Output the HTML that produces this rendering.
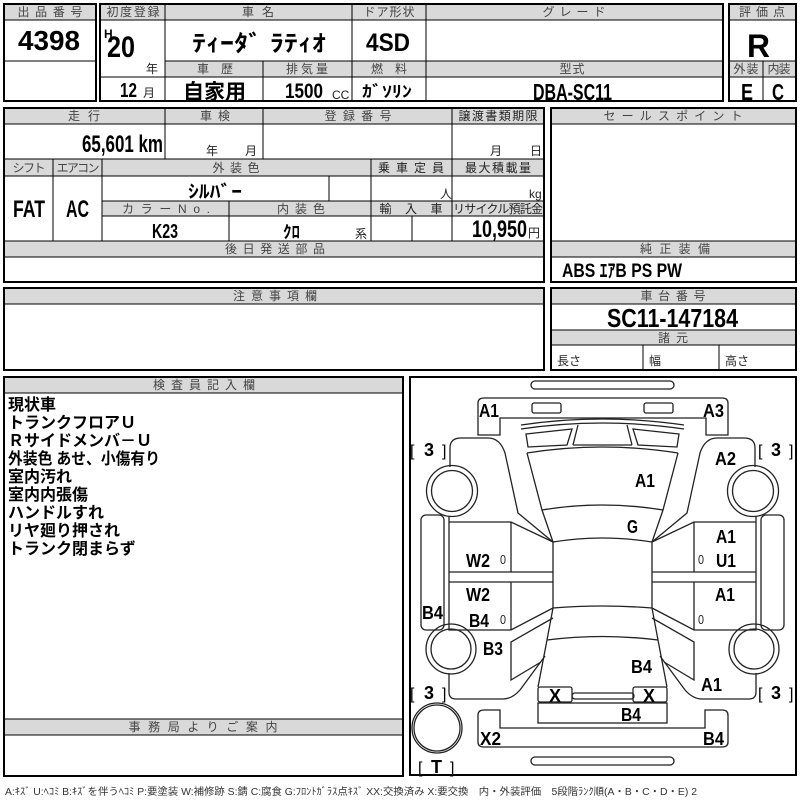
<!DOCTYPE html>
<html><head><meta charset="utf-8">
<style>
html,body{margin:0;padding:0;background:#fff;width:800px;height:800px;overflow:hidden;}
svg{display:block;}
.h{font-family:"Liberation Sans","Noto Sans CJK JP",sans-serif;font-size:12px;fill:#444;text-anchor:middle;}
.hd{font-family:"Liberation Sans","Noto Sans CJK JP",sans-serif;font-size:12px;fill:#222;text-anchor:middle;}
.v{font-family:"Liberation Sans","Noto Sans CJK JP",sans-serif;font-weight:bold;fill:#000;}
.j{font-family:"Liberation Sans","Noto Sans CJK JP",sans-serif;font-weight:bold;fill:#000;}
.s{font-family:"Liberation Sans","Noto Sans CJK JP",sans-serif;font-size:12px;fill:#222;}
.g{fill:#d9d9d9;stroke:none;}
.b{fill:none;stroke:#000;stroke-width:2;}
.l{stroke:#000;stroke-width:1;fill:none;}
.d{fill:none;stroke:#222;stroke-width:1.3;}
.lab{font-family:"Liberation Sans",sans-serif;font-weight:bold;font-size:18px;fill:#000;}
.br{font-family:"Liberation Sans",sans-serif;font-size:16px;fill:#000;}
.z{font-family:"Liberation Sans",sans-serif;font-size:13px;fill:#222;}
.ins{font-family:"Liberation Sans","Noto Sans CJK JP",sans-serif;font-weight:bold;font-size:16px;fill:#000;}
</style></head>
<body>
<svg width="800" height="800" viewBox="0 0 800 800" xmlns="http://www.w3.org/2000/svg">
<rect x="0" y="0" width="800" height="800" fill="#fff"/>

<!-- ===== TOP: 出品番号 ===== -->
<rect class="g" x="4" y="4" width="92" height="16"/>
<rect class="b" x="4" y="4" width="92" height="97"/>
<line class="l" x1="4" y1="20" x2="96" y2="20"/>
<line class="l" x1="4" y1="61" x2="96" y2="61"/>
<text class="h" x="50" y="16" textLength="65" lengthAdjust="spacing">出品番号</text>
<text class="v" x="18" y="50" font-size="28" textLength="62" lengthAdjust="spacingAndGlyphs">4398</text>

<!-- ===== TOP: main info ===== -->
<rect class="g" x="100" y="4" width="623" height="16"/>
<rect class="g" x="165" y="61" width="558" height="16"/>
<rect class="b" x="100" y="4" width="623" height="97"/>
<line class="l" x1="100" y1="20" x2="723" y2="20"/>
<line class="l" x1="165" y1="61" x2="723" y2="61"/>
<line class="l" x1="100" y1="77" x2="723" y2="77"/>
<line class="l" x1="165" y1="4" x2="165" y2="101"/>
<line class="l" x1="352" y1="4" x2="352" y2="101"/>
<line class="l" x1="426" y1="4" x2="426" y2="101"/>
<line class="l" x1="263" y1="61" x2="263" y2="101"/>
<text class="h" x="133" y="16" textLength="53" lengthAdjust="spacing">初度登録</text>
<text class="h" x="258" y="16" textLength="32" lengthAdjust="spacing">車名</text>
<text class="h" x="389" y="16" textLength="51" lengthAdjust="spacing">ドア形状</text>
<text class="h" x="574" y="16" textLength="63" lengthAdjust="spacing">グレード</text>
<text class="h" x="215" y="73" textLength="36" lengthAdjust="spacing">車歴</text>
<text class="h" x="307" y="73" textLength="42" lengthAdjust="spacing">排気量</text>
<text class="h" x="389" y="73" textLength="36" lengthAdjust="spacing">燃料</text>
<text class="h" x="572" y="73" textLength="25" lengthAdjust="spacing">型式</text>

<text class="v" x="104" y="38" font-size="12">H</text>
<text class="v" x="107" y="57" font-size="30" textLength="28" lengthAdjust="spacingAndGlyphs">20</text>
<text class="s" x="146" y="73" font-size="11">年</text>
<text class="v" x="120" y="97" font-size="20" textLength="17" lengthAdjust="spacingAndGlyphs">12</text>
<text class="s" x="143" y="97" font-size="11">月</text>
<text class="j" x="192" y="51" font-size="23" textLength="134" lengthAdjust="spacingAndGlyphs">ﾃｨｰﾀﾞ ﾗﾃｨｵ</text>
<text class="v" x="366" y="51" font-size="25" textLength="44" lengthAdjust="spacingAndGlyphs">4SD</text>
<text class="j" x="183" y="99" font-size="21" textLength="63" lengthAdjust="spacingAndGlyphs">自家用</text>
<text class="v" x="285" y="98" font-size="21" textLength="38" lengthAdjust="spacingAndGlyphs">1500</text>
<text class="s" x="332" y="99" font-size="10">CC</text>
<text class="j" x="362" y="97" font-size="16" textLength="50" lengthAdjust="spacingAndGlyphs">ｶﾞｿﾘﾝ</text>
<text class="v" x="533" y="100" font-size="23" textLength="79" lengthAdjust="spacingAndGlyphs">DBA-SC11</text>

<!-- 評価点 -->
<rect class="g" x="729" y="4" width="67" height="16"/>
<rect class="g" x="729" y="61" width="67" height="16"/>
<rect class="b" x="729" y="4" width="67" height="97"/>
<line class="l" x1="729" y1="20" x2="796" y2="20"/>
<line class="l" x1="729" y1="61" x2="796" y2="61"/>
<line class="l" x1="729" y1="77" x2="796" y2="77"/>
<line class="l" x1="763" y1="61" x2="763" y2="101"/>
<text class="h" x="762" y="16" textLength="46" lengthAdjust="spacing">評価点</text>
<text class="h" x="746" y="73" textLength="25" lengthAdjust="spacing">外装</text>
<text class="h" x="779" y="73" textLength="23" lengthAdjust="spacing">内装</text>
<text class="v" x="747" y="57" font-size="32" textLength="23" lengthAdjust="spacingAndGlyphs">R</text>
<text class="v" x="741" y="100" font-size="23" textLength="12" lengthAdjust="spacingAndGlyphs">E</text>
<text class="v" x="772" y="100" font-size="23" textLength="12" lengthAdjust="spacingAndGlyphs">C</text>

<!-- ===== SECOND SECTION LEFT ===== -->
<rect class="g" x="4" y="108" width="540" height="16"/>
<rect class="g" x="4" y="159" width="540" height="17"/>
<rect class="g" x="102" y="201" width="442" height="15"/>
<rect class="g" x="4" y="241" width="540" height="16"/>
<rect class="b" x="4" y="108" width="540" height="174"/>
<line class="l" x1="4" y1="124" x2="544" y2="124"/>
<line class="l" x1="165" y1="108" x2="165" y2="159"/>
<line class="l" x1="263" y1="108" x2="263" y2="159"/>
<line class="l" x1="452" y1="108" x2="452" y2="241"/>
<line class="l" x1="4" y1="159" x2="544" y2="159"/>
<line class="l" x1="4" y1="176" x2="544" y2="176"/>
<line class="l" x1="53" y1="159" x2="53" y2="241"/>
<line class="l" x1="102" y1="159" x2="102" y2="241"/>
<line class="l" x1="371" y1="159" x2="371" y2="241"/>
<line class="l" x1="329" y1="176" x2="329" y2="201"/>
<line class="l" x1="102" y1="201" x2="544" y2="201"/>
<line class="l" x1="102" y1="216" x2="544" y2="216"/>
<line class="l" x1="229" y1="201" x2="229" y2="241"/>
<line class="l" x1="412" y1="216" x2="412" y2="241"/>
<line class="l" x1="4" y1="241" x2="544" y2="241"/>
<line class="l" x1="4" y1="257" x2="544" y2="257"/>

<text class="h" x="84" y="120" textLength="32" lengthAdjust="spacing">走行</text>
<text class="h" x="215" y="120" textLength="30" lengthAdjust="spacing">車検</text>
<text class="h" x="358" y="120" textLength="67" lengthAdjust="spacing">登録番号</text>
<text class="hd" x="498" y="120" textLength="79" lengthAdjust="spacing">譲渡書類期限</text>
<text class="v" x="82" y="152" font-size="24" textLength="81" lengthAdjust="spacingAndGlyphs">65,601 km</text>
<text class="s" x="206" y="155">年</text>
<text class="s" x="245" y="155">月</text>
<text class="s" x="490" y="155">月</text>
<text class="s" x="530" y="155">日</text>

<text class="h" x="29" y="172" textLength="33" lengthAdjust="spacing">シフト</text>
<text class="h" x="78" y="172" textLength="43" lengthAdjust="spacing">エアコン</text>
<text class="h" x="236" y="172" textLength="47" lengthAdjust="spacing">外装色</text>
<text class="hd" x="411" y="172" textLength="66" lengthAdjust="spacing">乗車定員</text>
<text class="hd" x="498" y="172" textLength="66" lengthAdjust="spacing">最大積載量</text>
<text class="v" x="13" y="217" font-size="24" textLength="32" lengthAdjust="spacingAndGlyphs">FAT</text>
<text class="v" x="66" y="217" font-size="24" textLength="23" lengthAdjust="spacingAndGlyphs">AC</text>
<text class="j" x="188" y="198" font-size="18" textLength="54" lengthAdjust="spacingAndGlyphs">ｼﾙﾊﾞｰ</text>
<text class="s" x="440" y="198">人</text>
<text class="s" x="529" y="198" font-size="13">kg</text>

<text class="h" x="166" y="213" textLength="88" lengthAdjust="spacing">カラーNo.</text>
<text class="h" x="301" y="213" textLength="48" lengthAdjust="spacing">内装色</text>
<text class="hd" x="411" y="213" textLength="63" lengthAdjust="spacing">輸入車</text>
<text class="hd" x="498" y="213" textLength="90" lengthAdjust="spacing">リサイクル預託金</text>
<text class="v" x="152" y="238" font-size="20" textLength="26" lengthAdjust="spacingAndGlyphs">K23</text>
<text class="j" x="283" y="238" font-size="17" textLength="17" lengthAdjust="spacingAndGlyphs">ｸﾛ</text>
<text class="s" x="355" y="238" font-size="11">系</text>
<text class="v" x="472" y="237" font-size="24" textLength="55" lengthAdjust="spacingAndGlyphs">10,950</text>
<text class="s" x="528" y="237" font-size="13">円</text>
<text class="h" x="275" y="253" textLength="100" lengthAdjust="spacing">後日発送部品</text>

<!-- ===== SECOND SECTION RIGHT ===== -->
<rect class="g" x="551" y="108" width="245" height="16"/>
<rect class="g" x="551" y="241" width="245" height="16"/>
<rect class="b" x="551" y="108" width="245" height="174"/>
<line class="l" x1="551" y1="124" x2="796" y2="124"/>
<line class="l" x1="551" y1="241" x2="796" y2="241"/>
<line class="l" x1="551" y1="257" x2="796" y2="257"/>
<text class="h" x="673" y="120" textLength="139" lengthAdjust="spacing">セールスポイント</text>
<text class="h" x="675" y="253" textLength="70" lengthAdjust="spacing">純正装備</text>
<text class="j" x="562" y="277" font-size="19" textLength="120" lengthAdjust="spacingAndGlyphs">ABS ｴｱB PS PW</text>

<!-- ===== THIRD SECTION ===== -->
<rect class="g" x="4" y="288" width="540" height="16"/>
<rect class="b" x="4" y="288" width="540" height="82"/>
<line class="l" x1="4" y1="304" x2="544" y2="304"/>
<text class="h" x="275" y="300" textLength="84" lengthAdjust="spacing">注意事項欄</text>

<rect class="g" x="551" y="288" width="245" height="16"/>
<rect class="g" x="551" y="330" width="245" height="15"/>
<rect class="b" x="551" y="288" width="245" height="82"/>
<line class="l" x1="551" y1="304" x2="796" y2="304"/>
<line class="l" x1="551" y1="330" x2="796" y2="330"/>
<line class="l" x1="551" y1="345" x2="796" y2="345"/>
<line class="l" x1="643" y1="345" x2="643" y2="370"/>
<line class="l" x1="719" y1="345" x2="719" y2="370"/>
<text class="h" x="673" y="300" textLength="65" lengthAdjust="spacing">車台番号</text>
<text class="v" x="607" y="327" font-size="26" textLength="131" lengthAdjust="spacingAndGlyphs">SC11-147184</text>
<text class="h" x="673" y="342" textLength="30" lengthAdjust="spacing">諸元</text>
<text class="s" x="557" y="365">長さ</text>
<text class="s" x="649" y="365">幅</text>
<text class="s" x="725" y="365">高さ</text>

<!-- ===== INSPECTOR BOX ===== -->
<rect class="g" x="4" y="377" width="399" height="16"/>
<rect class="g" x="4" y="719" width="399" height="16"/>
<rect class="b" x="4" y="377" width="399" height="399"/>
<line class="l" x1="4" y1="393" x2="403" y2="393"/>
<line class="l" x1="4" y1="719" x2="403" y2="719"/>
<line class="l" x1="4" y1="735" x2="403" y2="735"/>
<text class="h" x="204" y="389" textLength="102" lengthAdjust="spacing">検査員記入欄</text>
<text class="h" x="203" y="731" textLength="149" lengthAdjust="spacing">事務局よりご案内</text>
<text class="ins" x="8" y="410">現状車</text>
<text class="ins" x="8" y="428">トランクフロアＵ</text>
<text class="ins" x="8" y="446">Ｒサイドメンバ－Ｕ</text>
<text class="ins" x="8" y="464" textLength="152" lengthAdjust="spacingAndGlyphs">外装色 あせ、小傷有り</text>
<text class="ins" x="8" y="482">室内汚れ</text>
<text class="ins" x="8" y="500">室内内張傷</text>
<text class="ins" x="8" y="518">ハンドルすれ</text>
<text class="ins" x="8" y="536">リヤ廻り押され</text>
<text class="ins" x="8" y="554">トランク閉まらず</text>

<!-- ===== CAR DIAGRAM ===== -->
<rect class="b" x="410" y="377" width="386" height="398"/>

<g id="L" class="d">
  <path d="M450,467 L450,448 Q450,438 461,438 L488,438 Q500,438 505,453 L518,513 L553,542"/>
  <circle cx="452" cy="491" r="25.5"/>
  <circle cx="452" cy="491" r="20.5"/>
  <rect x="421" y="515" width="23" height="115" rx="5"/>
  <path d="M449,522 L511,522 L553,542"/>
  <path d="M449,516 L449,630 L511,630 L553,608"/>
  <line x1="511" y1="522" x2="511" y2="572"/>
  <line x1="449" y1="572" x2="553" y2="572"/>
  <line x1="449" y1="582" x2="553" y2="582"/>
  <line x1="511" y1="582" x2="511" y2="630"/>
  <path d="M553,618 L511,642 L511,680 L541,662"/>
  <circle cx="451" cy="649" r="25"/>
  <circle cx="451" cy="649" r="20"/>
  <path d="M449,673 L449,692 Q449,699 456,699 L503,699 Q512,699 520,690 L545,656"/>
  <path d="M527,453 L542,510 L553,542 L553,608 L547,640 L538,687"/>
  <path d="M526,434 L572,429 L567,445 L528,447 Z"/>
  <path d="M578,425 L573,445"/>
  <rect x="532" y="403" width="29" height="10" rx="2"/>
  <rect x="538" y="687" width="34" height="15" rx="2"/>
</g>
<use href="#L" transform="translate(1205,0) scale(-1,1)"/>

<g class="d">
  <rect x="531" y="381" width="143" height="8" rx="4"/>
  <path d="M478,403 Q478,398 484,398 L722,398 Q728,398 728,403 L728,435 L706,435 L706,418 L500,418 L500,435 L478,435 Z"/>
  <path d="M521,425 Q602,413 684,425 M521,429 Q602,417 684,429"/>
  <line x1="573" y1="445" x2="632" y2="445"/>
  <path d="M527,453 Q602,441 678,453"/>
  <path d="M542,510 Q602,500 663,510"/>
  <path d="M553,542 Q602,534 652,542"/>
  <path d="M553,608 Q602,604 652,608"/>
  <path d="M547,640 Q602,633 658,640"/>
  <rect x="572" y="693" width="62" height="6" rx="3"/>
  <rect x="538" y="703" width="129" height="20"/>
  <path d="M478,715 Q478,710 484,710 L500,710 L500,728 L705,728 L705,710 L722,710 Q728,710 728,715 L728,742 Q728,747 722,747 L484,747 Q478,747 478,742 Z"/>
  <rect x="531" y="757" width="143" height="8" rx="4"/>
  <circle cx="437" cy="728" r="25"/>
  <circle cx="437" cy="728" r="23"/>
</g>

<!-- diagram labels -->
<text class="lab" x="479" y="417" textLength="20" lengthAdjust="spacingAndGlyphs">A1</text>
<text class="lab" x="703" y="417" textLength="21" lengthAdjust="spacingAndGlyphs">A3</text>
<text class="lab" x="715" y="465" textLength="21" lengthAdjust="spacingAndGlyphs">A2</text>
<text class="lab" x="635" y="487" textLength="20" lengthAdjust="spacingAndGlyphs">A1</text>
<text class="lab" x="627" y="533" textLength="11" lengthAdjust="spacingAndGlyphs">G</text>
<text class="lab" x="716" y="543" textLength="20" lengthAdjust="spacingAndGlyphs">A1</text>
<text class="lab" x="716" y="567" textLength="20" lengthAdjust="spacingAndGlyphs">U1</text>
<text class="lab" x="466" y="567" textLength="24" lengthAdjust="spacingAndGlyphs">W2</text>
<text class="lab" x="466" y="601" textLength="24" lengthAdjust="spacingAndGlyphs">W2</text>
<text class="lab" x="469" y="627" textLength="20" lengthAdjust="spacingAndGlyphs">B4</text>
<text class="lab" x="422" y="619" textLength="21" lengthAdjust="spacingAndGlyphs">B4</text>
<text class="lab" x="715" y="601" textLength="20" lengthAdjust="spacingAndGlyphs">A1</text>
<text class="lab" x="483" y="655" textLength="20" lengthAdjust="spacingAndGlyphs">B3</text>
<text class="lab" x="631" y="673" textLength="21" lengthAdjust="spacingAndGlyphs">B4</text>
<text class="lab" x="701" y="691" textLength="21" lengthAdjust="spacingAndGlyphs">A1</text>
<text class="lab" x="549" y="702" textLength="12" lengthAdjust="spacingAndGlyphs">X</text>
<text class="lab" x="643" y="702" textLength="12" lengthAdjust="spacingAndGlyphs">X</text>
<text class="lab" x="621" y="721" textLength="20" lengthAdjust="spacingAndGlyphs">B4</text>
<text class="lab" x="480" y="745" textLength="21" lengthAdjust="spacingAndGlyphs">X2</text>
<text class="lab" x="703" y="745" textLength="21" lengthAdjust="spacingAndGlyphs">B4</text>

<text class="z" x="500" y="564" textLength="6" lengthAdjust="spacingAndGlyphs">0</text>
<text class="z" x="698" y="564" textLength="6" lengthAdjust="spacingAndGlyphs">0</text>
<text class="z" x="500" y="624" textLength="6" lengthAdjust="spacingAndGlyphs">0</text>
<text class="z" x="698" y="624" textLength="6" lengthAdjust="spacingAndGlyphs">0</text>

<text class="br" x="410" y="456">[</text>
<text class="lab" x="424" y="456">3</text>
<text class="br" x="442" y="456">]</text>
<text class="br" x="758" y="456">[</text>
<text class="lab" x="771" y="456">3</text>
<text class="br" x="789" y="456">]</text>
<text class="br" x="410" y="699">[</text>
<text class="lab" x="424" y="699">3</text>
<text class="br" x="442" y="699">]</text>
<text class="br" x="758" y="699">[</text>
<text class="lab" x="771" y="699">3</text>
<text class="br" x="789" y="699">]</text>
<text class="br" x="418" y="773">[</text>
<text class="lab" x="431" y="773">T</text>
<text class="br" x="450" y="773">]</text>

<!-- legend -->
<text x="5" y="795" font-family="'Liberation Sans','Noto Sans CJK JP',sans-serif" font-size="10" fill="#333" textLength="692" lengthAdjust="spacingAndGlyphs">A:ｷｽﾞ U:ﾍｺﾐ B:ｷｽﾞを伴うﾍｺﾐ P:要塗装 W:補修跡 S:錆 C:腐食 G:ﾌﾛﾝﾄｶﾞﾗｽ点ｷｽﾞ XX:交換済み X:要交換　内・外装評価　5段階ﾗﾝｸ順(A・B・C・D・E) 2</text>
</svg>
</body></html>
